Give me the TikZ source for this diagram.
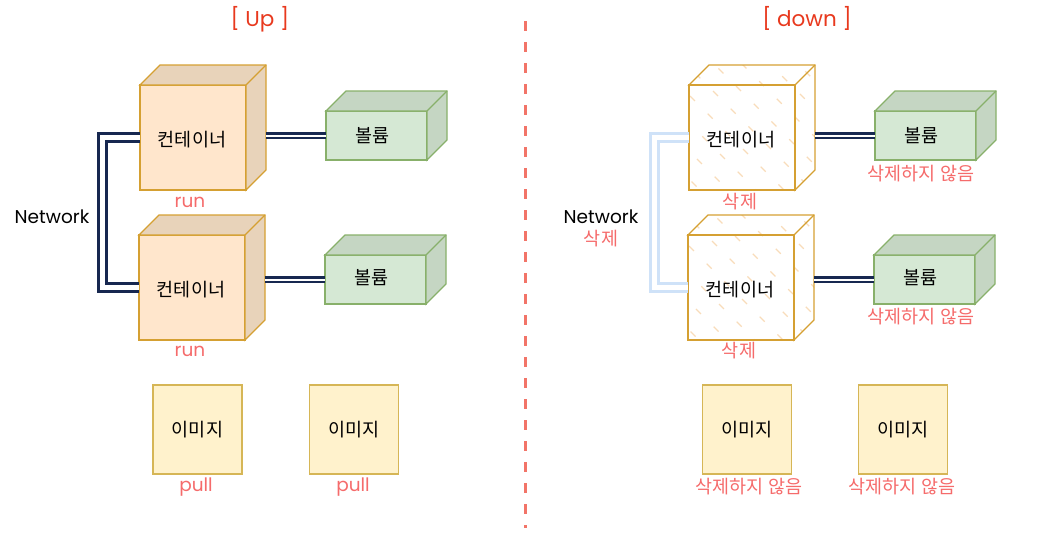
\documentclass[tikz,border=0pt]{standalone}
\usepackage{fontspec}
\setmainfont{Noto Sans CJK KR}
\newfontfamily\lat{Poppins}
\usetikzlibrary{calc}
\pgfdeclarelayer{bg}
\pgfsetlayers{bg,main}
\definecolor{peach}{HTML}{FFE6CC}
\definecolor{peachside}{HTML}{E8D3BA}
\definecolor{orstroke}{HTML}{D5A032}
\definecolor{vgreen}{HTML}{D5E8D4}
\definecolor{vgreenside}{HTML}{C5D6C3}
\definecolor{gstroke}{HTML}{88B06A}
\definecolor{imgfill}{HTML}{FFF2CC}
\definecolor{imgstroke}{HTML}{D6B656}
\definecolor{navy}{HTML}{172850}
\definecolor{lightblue}{HTML}{CFE2F8}
\definecolor{labred}{HTML}{F56B6B}
\definecolor{titlered}{HTML}{E8391E}
\definecolor{divred}{HTML}{F27468}
\definecolor{hatchc}{HTML}{F8DCBA}
\newcommand\cubesides[4]{% node, depth, side fill, stroke
  \draw[draw=#4, fill=#3, line width=1.3, line join=miter]
    (#1.north west) -- ++(#2,-#2) -| ($(#1.south east)+(#2,-#2)$) -- (#1.south east) -- (#1.north east) -- cycle;
  \draw[draw=#4, line width=1.3] (#1.north east) -- ++(#2,-#2);
}
\newcommand\hatchcube[1]{%
  \begin{pgfonlayer}{bg}
  \begin{scope}
  \clip (#1.north west) -- ++(20,-20) -| ($(#1.south east)+(20,-20)$) -- (#1.south east) -- (#1.south west) -- cycle;
  \foreach \k [count=\i] in {-180,-152,...,160}
    \draw[hatchline, dash phase=\i*7] ($(#1.north west)+(\k,-30)$) -- ++(170,170);
  \end{scope}
  \end{pgfonlayer}
}
\begin{document}
\begin{tikzpicture}[x=1pt,y=-1pt,
  kfont/.style={font=\fontsize{18.5}{22}\selectfont},
  front/.style={draw=orstroke, line width=1.3, minimum width=106, minimum height=105, inner sep=0, outer sep=0, kfont},
  cont/.style={front, fill=peach},
  contx/.style={front},
  vol/.style={draw=gstroke, fill=vgreen, line width=1.3, minimum width=101, minimum height=49, inner sep=0, outer sep=0, kfont},
  img/.style={draw=imgstroke, fill=imgfill, line width=1.3, minimum width=89, minimum height=89, inner sep=0, outer sep=0, kfont},
  lab/.style={text=labred, kfont},
  latlab/.style={text=labred, font=\lat\fontsize{18.5}{22}\selectfont},
  blk/.style={text=black, font=\lat\fontsize{18.5}{22}\selectfont},
  ttl/.style={text=titlered, font=\lat\fontsize{21.5}{25}\selectfont},
  link/.style={draw=navy, double=white, line width=2.5, double distance=2},
  net/.style={draw=navy, double=white, line width=3, double distance=5},
  netx/.style={net, draw=lightblue},
  hatchline/.style={draw=hatchc, line width=1.1, dash pattern=on 7 off 18},
]
\useasboundingbox (0,0) rectangle (1050,544);

% titles and divider
\node[ttl] (tup) at (260,19) {[ Up ]};
\node[ttl] (tdown) at (807,18) {[ down ]};
\draw[divred, line width=3, dash pattern=on 10 off 11] (525,21) -- (525,528);

% ---------- Up ----------
\node[cont] (c1) at (193,137.5) {};
\node[cont] (c2) at (192,287.5) {};
\cubesides{c1}{20}{peachside}{orstroke}
\cubesides{c2}{20}{peachside}{orstroke}
\node[kfont] (c1t) at (192,140) {컨테이너};
\node[kfont] (c2t) at (191,290) {컨테이너};

\node[vol] (v1) at (376.5,135.5) {};
\node[vol] (v2) at (375.5,279.5) {};
\cubesides{v1}{20}{vgreenside}{gstroke}
\cubesides{v2}{20}{vgreenside}{gstroke}
\node[kfont] (v1t) at (372.5,136) {볼륨};
\node[kfont] (v2t) at (371.5,278) {볼륨};

\coordinate (c1r) at ($(c1.east)+(20,0)$);
\coordinate (c2r) at ($(c2.east)+(20,0)$);
\draw[link] (c1r |- v1.west) -- (v1.west);
\draw[link] (c2r |- v2.west) -- (v2.west);
\draw[net] (c1.west) -- ++(-38,0) |- (c2.west);

\node[blk] (nw1) at (52,217) {Network};
\node[latlab] (run1) at (190,202) {run};
\node[latlab] (run2) at (190,351) {run};

\node[img] (i1) at (197.5,429.5) {이미지};
\node[img] (i2) at (354,429.5) {이미지};
\node[latlab] (p1) at (196,487) {pull};
\node[latlab] (p2) at (353,487) {pull};

% ---------- down ----------
\node[contx] (d1) at (742,137.5) {};
\node[contx] (d2) at (741,287.5) {};
\hatchcube{d1}
\hatchcube{d2}
\cubesides{d1}{20}{none}{orstroke}
\cubesides{d2}{20}{none}{orstroke}
\node[kfont] (d1t) at (741,140) {컨테이너};
\node[kfont] (d2t) at (740,290) {컨테이너};

\node[vol] (w1) at (925.5,135.5) {};
\node[vol] (w2) at (924.5,279.5) {};
\cubesides{w1}{20}{vgreenside}{gstroke}
\cubesides{w2}{20}{vgreenside}{gstroke}
\node[kfont] (w1t) at (921.5,136) {볼륨};
\node[kfont] (w2t) at (920.5,278) {볼륨};

\coordinate (d1r) at ($(d1.east)+(20,0)$);
\coordinate (d2r) at ($(d2.east)+(20,0)$);
\draw[link] (d1r |- w1.west) -- (w1.west);
\draw[link] (d2r |- w2.west) -- (w2.west);
\draw[netx] (d1.west) -- ++(-35,0) |- (d2.west);

\node[blk] (nw2) at (601,217) {Network};
\node[lab] (nd) at (601,239) {삭제};
\node[lab] (del1) at (740,202) {삭제};
\node[lab] (del2) at (739,351) {삭제};
\node[lab] (k1) at (921,174) {삭제하지 않음};
\node[lab] (k2) at (921,317) {삭제하지 않음};

\node[img] (j1) at (747,429.5) {이미지};
\node[img] (j2) at (903,429.5) {이미지};
\node[lab] (k3) at (749,487) {삭제하지 않음};
\node[lab] (k4) at (902,487) {삭제하지 않음};
\end{tikzpicture}
\end{document}
